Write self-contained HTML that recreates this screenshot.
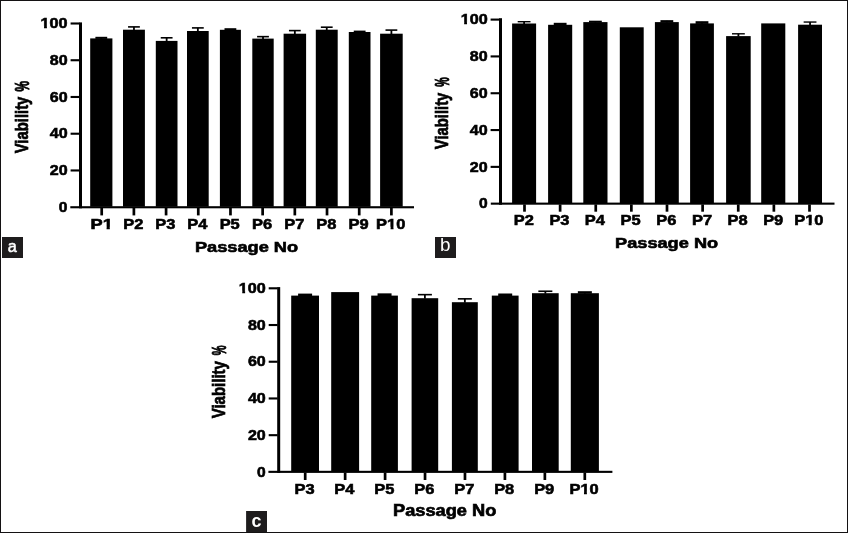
<!DOCTYPE html>
<html><head><meta charset="utf-8"><style>
html,body{margin:0;padding:0;background:#fff;}
body{width:848px;height:533px;overflow:hidden;position:relative;}
svg{position:absolute;left:0;top:0;will-change:transform;font-family:"Liberation Sans",sans-serif;}
.frame{position:absolute;left:0;top:0;width:846px;height:531px;border:1px solid #141213;}
</style></head><body>
<svg width="848" height="533" viewBox="0 0 848 533">
<rect x="0" y="0" width="848" height="533" fill="#fff"/>
<rect x="90.20" y="38.40" width="22.20" height="168.30" fill="#000"/>
<rect x="95.40" y="36.80" width="11.80" height="2.10" fill="#000"/>
<rect x="100.40" y="37.60" width="1.80" height="1.30" fill="#000"/>
<rect x="100.35" y="208.00" width="2.70" height="7.40" fill="#000"/>
<g transform="matrix(0.91237 0.00000 0.00000 0.71831 90.514 229.156)"><text font-size="20" font-weight="bold" fill="#000" stroke="#000" stroke-width="0.800">P1</text><rect x="13.201" y="-3.240" width="4.400" height="5.240" fill="#fff"/><rect x="21.161" y="-3.240" width="3.640" height="5.240" fill="#fff"/></g>
<rect x="123.00" y="29.70" width="21.90" height="177.00" fill="#000"/>
<rect x="128.05" y="26.10" width="11.80" height="1.60" fill="#000"/>
<rect x="133.05" y="26.90" width="1.80" height="3.30" fill="#000"/>
<rect x="132.54" y="208.00" width="2.70" height="7.40" fill="#000"/>
<g transform="matrix(0.82250 0.00000 0.00000 0.71831 123.199 229.156)"><text font-size="20" font-weight="bold" fill="#000" stroke="#000" stroke-width="0.800">P2</text></g>
<rect x="155.80" y="40.90" width="21.70" height="165.80" fill="#000"/>
<rect x="160.75" y="37.00" width="11.80" height="1.60" fill="#000"/>
<rect x="165.75" y="37.80" width="1.80" height="3.60" fill="#000"/>
<rect x="164.73" y="208.00" width="2.70" height="7.40" fill="#000"/>
<g transform="matrix(0.82250 0.00000 0.00000 0.71831 155.347 229.156)"><text font-size="20" font-weight="bold" fill="#000" stroke="#000" stroke-width="0.800">P3</text></g>
<rect x="187.00" y="31.00" width="21.70" height="175.70" fill="#000"/>
<rect x="191.95" y="27.10" width="11.80" height="1.60" fill="#000"/>
<rect x="196.95" y="27.90" width="1.80" height="3.60" fill="#000"/>
<rect x="196.92" y="208.00" width="2.70" height="7.40" fill="#000"/>
<g transform="matrix(0.82250 0.00000 0.00000 0.71831 187.289 229.156)"><text font-size="20" font-weight="bold" fill="#000" stroke="#000" stroke-width="0.800">P4</text></g>
<rect x="219.90" y="29.80" width="21.00" height="176.90" fill="#000"/>
<rect x="224.50" y="28.20" width="11.80" height="2.10" fill="#000"/>
<rect x="229.50" y="29.00" width="1.80" height="1.30" fill="#000"/>
<rect x="229.11" y="208.00" width="2.70" height="7.40" fill="#000"/>
<g transform="matrix(0.82250 0.00000 0.00000 0.71831 219.642 229.156)"><text font-size="20" font-weight="bold" fill="#000" stroke="#000" stroke-width="0.800">P5</text></g>
<rect x="252.30" y="38.60" width="21.40" height="168.10" fill="#000"/>
<rect x="257.10" y="35.85" width="11.80" height="1.60" fill="#000"/>
<rect x="262.10" y="36.65" width="1.80" height="2.45" fill="#000"/>
<rect x="261.29" y="208.00" width="2.70" height="7.40" fill="#000"/>
<g transform="matrix(0.82250 0.00000 0.00000 0.71831 251.913 229.156)"><text font-size="20" font-weight="bold" fill="#000" stroke="#000" stroke-width="0.800">P6</text></g>
<rect x="283.60" y="33.70" width="22.50" height="173.00" fill="#000"/>
<rect x="288.95" y="29.80" width="11.80" height="1.60" fill="#000"/>
<rect x="293.95" y="30.60" width="1.80" height="3.60" fill="#000"/>
<rect x="293.48" y="208.00" width="2.70" height="7.40" fill="#000"/>
<g transform="matrix(0.82250 0.00000 0.00000 0.71831 284.184 229.156)"><text font-size="20" font-weight="bold" fill="#000" stroke="#000" stroke-width="0.800">P7</text></g>
<rect x="315.80" y="29.70" width="21.90" height="177.00" fill="#000"/>
<rect x="320.85" y="26.40" width="11.80" height="1.60" fill="#000"/>
<rect x="325.85" y="27.20" width="1.80" height="3.00" fill="#000"/>
<rect x="325.67" y="208.00" width="2.70" height="7.40" fill="#000"/>
<g transform="matrix(0.82250 0.00000 0.00000 0.71831 316.250 229.156)"><text font-size="20" font-weight="bold" fill="#000" stroke="#000" stroke-width="0.800">P8</text></g>
<rect x="348.80" y="32.00" width="21.70" height="174.70" fill="#000"/>
<rect x="353.75" y="30.60" width="11.80" height="1.90" fill="#000"/>
<rect x="358.75" y="31.40" width="1.80" height="1.10" fill="#000"/>
<rect x="357.86" y="208.00" width="2.70" height="7.40" fill="#000"/>
<g transform="matrix(0.82250 0.00000 0.00000 0.71831 348.480 229.156)"><text font-size="20" font-weight="bold" fill="#000" stroke="#000" stroke-width="0.800">P9</text></g>
<rect x="380.10" y="33.70" width="22.60" height="173.00" fill="#000"/>
<rect x="385.50" y="29.30" width="11.80" height="1.60" fill="#000"/>
<rect x="390.50" y="30.10" width="1.80" height="4.10" fill="#000"/>
<rect x="390.05" y="208.00" width="2.70" height="7.40" fill="#000"/>
<g transform="matrix(0.82250 0.00000 0.00000 0.71831 376.104 229.156)"><text font-size="20" font-weight="bold" fill="#000" stroke="#000" stroke-width="0.800">P10</text><rect x="13.201" y="-3.240" width="4.400" height="5.240" fill="#fff"/><rect x="21.161" y="-3.240" width="3.640" height="5.240" fill="#fff"/></g>
<rect x="79.00" y="22.40" width="3.00" height="185.90" fill="#000"/>
<rect x="70.30" y="206.20" width="343.70" height="2.10" fill="#000"/>
<rect x="70.60" y="22.45" width="8.90" height="2.10" fill="#000"/>
<g transform="matrix(0.80964 0.00000 0.00000 0.71831 40.587 28.156)"><text font-size="20" font-weight="bold" fill="#000" stroke="#000" stroke-width="0.800">100</text><rect x="-0.140" y="-3.240" width="4.400" height="5.240" fill="#fff"/><rect x="7.820" y="-3.240" width="3.640" height="5.240" fill="#fff"/></g>
<rect x="70.60" y="59.19" width="8.90" height="2.10" fill="#000"/>
<g transform="matrix(0.80327 0.00000 0.00000 0.71831 49.710 64.896)"><text font-size="20" font-weight="bold" fill="#000" stroke="#000" stroke-width="0.800">80</text></g>
<rect x="70.60" y="95.93" width="8.90" height="2.10" fill="#000"/>
<g transform="matrix(0.80318 0.00000 0.00000 0.71831 49.712 101.636)"><text font-size="20" font-weight="bold" fill="#000" stroke="#000" stroke-width="0.800">60</text></g>
<rect x="70.60" y="132.67" width="8.90" height="2.10" fill="#000"/>
<g transform="matrix(0.80354 0.00000 0.00000 0.71831 49.704 138.376)"><text font-size="20" font-weight="bold" fill="#000" stroke="#000" stroke-width="0.800">40</text></g>
<rect x="70.60" y="169.41" width="8.90" height="2.10" fill="#000"/>
<g transform="matrix(0.80318 0.00000 0.00000 0.71831 49.712 175.116)"><text font-size="20" font-weight="bold" fill="#000" stroke="#000" stroke-width="0.800">20</text></g>
<g transform="matrix(0.78039 0.00000 0.00000 0.71831 58.862 211.856)"><text font-size="20" font-weight="bold" fill="#000" stroke="#000" stroke-width="0.800">0</text></g>
<g transform="matrix(0.91105 0.00000 0.00000 0.76087 194.916 251.500)"><text font-size="20" font-weight="bold" fill="#000" stroke="#000" stroke-width="0.800">Passage No</text></g>
<g transform="matrix(0.00000 -0.74342 0.91444 0.00000 28.159 153.349)"><text font-size="20" font-weight="bold" fill="#000" stroke="#000" stroke-width="0.800">Viability</text></g>
<g transform="matrix(0.00000 -0.58929 1.00000 0.00000 28.700 91.595)"><text font-size="20" font-weight="bold" fill="#000" stroke="#000" stroke-width="0.900">%</text></g>
<rect x="2.00" y="237.00" width="21.00" height="21.00" fill="#1e1c1d"/>
<g transform="matrix(0.81373 0.00000 0.00000 0.78182 7.668 251.644)"><text font-size="20" font-weight="normal" fill="#fff" stroke="#fff" stroke-width="0.600">a</text></g>
<rect x="512.10" y="23.50" width="24.00" height="179.60" fill="#000"/>
<rect x="517.70" y="21.00" width="12.80" height="1.40" fill="#000"/>
<rect x="523.20" y="21.70" width="1.80" height="2.30" fill="#000"/>
<rect x="523.15" y="204.40" width="2.70" height="7.30" fill="#000"/>
<g transform="matrix(0.82250 0.00000 0.00000 0.71831 513.810 225.456)"><text font-size="20" font-weight="bold" fill="#000" stroke="#000" stroke-width="0.800">P2</text></g>
<rect x="548.10" y="24.80" width="24.10" height="178.30" fill="#000"/>
<rect x="553.75" y="22.80" width="12.80" height="2.50" fill="#000"/>
<rect x="559.25" y="23.50" width="1.80" height="1.80" fill="#000"/>
<rect x="558.77" y="204.40" width="2.70" height="7.30" fill="#000"/>
<g transform="matrix(0.82250 0.00000 0.00000 0.71831 549.394 225.456)"><text font-size="20" font-weight="bold" fill="#000" stroke="#000" stroke-width="0.800">P3</text></g>
<rect x="583.30" y="22.10" width="24.20" height="181.00" fill="#000"/>
<rect x="589.00" y="20.70" width="12.80" height="1.90" fill="#000"/>
<rect x="594.50" y="21.40" width="1.80" height="1.20" fill="#000"/>
<rect x="594.40" y="204.40" width="2.70" height="7.30" fill="#000"/>
<g transform="matrix(0.82250 0.00000 0.00000 0.71831 584.772 225.456)"><text font-size="20" font-weight="bold" fill="#000" stroke="#000" stroke-width="0.800">P4</text></g>
<rect x="619.80" y="27.30" width="23.90" height="175.80" fill="#000"/>
<rect x="630.02" y="204.40" width="2.70" height="7.30" fill="#000"/>
<g transform="matrix(0.82250 0.00000 0.00000 0.71831 620.561 225.456)"><text font-size="20" font-weight="bold" fill="#000" stroke="#000" stroke-width="0.800">P5</text></g>
<rect x="654.90" y="22.10" width="23.90" height="181.00" fill="#000"/>
<rect x="660.45" y="20.15" width="12.80" height="2.45" fill="#000"/>
<rect x="665.95" y="20.85" width="1.80" height="1.75" fill="#000"/>
<rect x="665.65" y="204.40" width="2.70" height="7.30" fill="#000"/>
<g transform="matrix(0.82250 0.00000 0.00000 0.71831 656.269 225.456)"><text font-size="20" font-weight="bold" fill="#000" stroke="#000" stroke-width="0.800">P6</text></g>
<rect x="690.10" y="23.40" width="23.80" height="179.70" fill="#000"/>
<rect x="695.60" y="21.20" width="12.80" height="2.70" fill="#000"/>
<rect x="701.10" y="21.90" width="1.80" height="2.00" fill="#000"/>
<rect x="701.27" y="204.40" width="2.70" height="7.30" fill="#000"/>
<g transform="matrix(0.82250 0.00000 0.00000 0.71831 691.976 225.456)"><text font-size="20" font-weight="bold" fill="#000" stroke="#000" stroke-width="0.800">P7</text></g>
<rect x="726.10" y="36.10" width="24.60" height="167.00" fill="#000"/>
<rect x="732.00" y="33.10" width="12.80" height="1.40" fill="#000"/>
<rect x="737.50" y="33.80" width="1.80" height="2.80" fill="#000"/>
<rect x="736.90" y="204.40" width="2.70" height="7.30" fill="#000"/>
<g transform="matrix(0.82250 0.00000 0.00000 0.71831 727.478 225.456)"><text font-size="20" font-weight="bold" fill="#000" stroke="#000" stroke-width="0.800">P8</text></g>
<rect x="761.20" y="23.40" width="24.10" height="179.70" fill="#000"/>
<rect x="772.52" y="204.40" width="2.70" height="7.30" fill="#000"/>
<g transform="matrix(0.82250 0.00000 0.00000 0.71831 763.144 225.456)"><text font-size="20" font-weight="bold" fill="#000" stroke="#000" stroke-width="0.800">P9</text></g>
<rect x="798.10" y="24.70" width="23.90" height="178.40" fill="#000"/>
<rect x="803.65" y="21.35" width="12.80" height="1.40" fill="#000"/>
<rect x="809.15" y="22.05" width="1.80" height="3.15" fill="#000"/>
<rect x="808.15" y="204.40" width="2.70" height="7.30" fill="#000"/>
<g transform="matrix(0.82250 0.00000 0.00000 0.71831 794.204 225.456)"><text font-size="20" font-weight="bold" fill="#000" stroke="#000" stroke-width="0.800">P10</text><rect x="13.201" y="-3.240" width="4.400" height="5.240" fill="#fff"/><rect x="21.161" y="-3.240" width="3.640" height="5.240" fill="#fff"/></g>
<rect x="499.00" y="18.20" width="3.00" height="186.50" fill="#000"/>
<rect x="490.80" y="202.60" width="343.70" height="2.10" fill="#000"/>
<rect x="490.60" y="18.55" width="8.90" height="2.10" fill="#000"/>
<g transform="matrix(0.80964 0.00000 0.00000 0.71831 460.687 24.256)"><text font-size="20" font-weight="bold" fill="#000" stroke="#000" stroke-width="0.800">100</text><rect x="-0.140" y="-3.240" width="4.400" height="5.240" fill="#fff"/><rect x="7.820" y="-3.240" width="3.640" height="5.240" fill="#fff"/></g>
<rect x="490.60" y="55.37" width="8.90" height="2.10" fill="#000"/>
<g transform="matrix(0.80327 0.00000 0.00000 0.71831 469.810 61.076)"><text font-size="20" font-weight="bold" fill="#000" stroke="#000" stroke-width="0.800">80</text></g>
<rect x="490.60" y="92.19" width="8.90" height="2.10" fill="#000"/>
<g transform="matrix(0.80318 0.00000 0.00000 0.71831 469.812 97.896)"><text font-size="20" font-weight="bold" fill="#000" stroke="#000" stroke-width="0.800">60</text></g>
<rect x="490.60" y="129.01" width="8.90" height="2.10" fill="#000"/>
<g transform="matrix(0.80354 0.00000 0.00000 0.71831 469.804 134.716)"><text font-size="20" font-weight="bold" fill="#000" stroke="#000" stroke-width="0.800">40</text></g>
<rect x="490.60" y="165.83" width="8.90" height="2.10" fill="#000"/>
<g transform="matrix(0.80318 0.00000 0.00000 0.71831 469.812 171.536)"><text font-size="20" font-weight="bold" fill="#000" stroke="#000" stroke-width="0.800">20</text></g>
<g transform="matrix(0.78039 0.00000 0.00000 0.71831 478.962 208.356)"><text font-size="20" font-weight="bold" fill="#000" stroke="#000" stroke-width="0.800">0</text></g>
<g transform="matrix(0.91015 0.00000 0.00000 0.76087 615.017 247.800)"><text font-size="20" font-weight="bold" fill="#000" stroke="#000" stroke-width="0.800">Passage No</text></g>
<g transform="matrix(0.00000 -0.74211 0.91979 0.00000 448.137 149.248)"><text font-size="20" font-weight="bold" fill="#000" stroke="#000" stroke-width="0.800">Viability</text></g>
<g transform="matrix(0.00000 -0.52976 0.99291 0.00000 448.701 86.865)"><text font-size="20" font-weight="bold" fill="#000" stroke="#000" stroke-width="0.900">%</text></g>
<rect x="435.00" y="237.00" width="21.00" height="21.00" fill="#1e1c1d"/>
<g transform="matrix(0.94444 0.00000 0.00000 0.87755 440.072 251.224)"><text font-size="20" font-weight="normal" fill="#fff">b</text></g>
<rect x="291.20" y="295.60" width="27.80" height="175.70" fill="#000"/>
<rect x="298.10" y="293.60" width="14.00" height="2.50" fill="#000"/>
<rect x="304.20" y="294.40" width="1.80" height="1.70" fill="#000"/>
<rect x="303.85" y="472.60" width="2.70" height="7.40" fill="#000"/>
<g transform="matrix(0.82250 0.00000 0.00000 0.70423 294.469 493.759)"><text font-size="20" font-weight="bold" fill="#000" stroke="#000" stroke-width="0.800">P3</text></g>
<rect x="331.20" y="292.10" width="27.90" height="179.20" fill="#000"/>
<rect x="343.79" y="472.60" width="2.70" height="7.40" fill="#000"/>
<g transform="matrix(0.82250 0.00000 0.00000 0.70423 334.165 493.759)"><text font-size="20" font-weight="bold" fill="#000" stroke="#000" stroke-width="0.800">P4</text></g>
<rect x="371.20" y="295.60" width="26.70" height="175.70" fill="#000"/>
<rect x="377.55" y="293.35" width="14.00" height="2.75" fill="#000"/>
<rect x="383.65" y="294.15" width="1.80" height="1.95" fill="#000"/>
<rect x="383.74" y="472.60" width="2.70" height="7.40" fill="#000"/>
<g transform="matrix(0.82250 0.00000 0.00000 0.70423 374.272 493.759)"><text font-size="20" font-weight="bold" fill="#000" stroke="#000" stroke-width="0.800">P5</text></g>
<rect x="411.60" y="298.20" width="26.60" height="173.10" fill="#000"/>
<rect x="417.90" y="293.85" width="14.00" height="1.60" fill="#000"/>
<rect x="424.00" y="294.65" width="1.80" height="4.05" fill="#000"/>
<rect x="423.68" y="472.60" width="2.70" height="7.40" fill="#000"/>
<g transform="matrix(0.82250 0.00000 0.00000 0.70423 414.297 493.759)"><text font-size="20" font-weight="bold" fill="#000" stroke="#000" stroke-width="0.800">P6</text></g>
<rect x="451.90" y="302.20" width="25.90" height="169.10" fill="#000"/>
<rect x="457.85" y="298.05" width="14.00" height="1.60" fill="#000"/>
<rect x="463.95" y="298.85" width="1.80" height="3.85" fill="#000"/>
<rect x="463.62" y="472.60" width="2.70" height="7.40" fill="#000"/>
<g transform="matrix(0.82250 0.00000 0.00000 0.70423 454.322 493.759)"><text font-size="20" font-weight="bold" fill="#000" stroke="#000" stroke-width="0.800">P7</text></g>
<rect x="491.80" y="295.60" width="26.80" height="175.70" fill="#000"/>
<rect x="498.20" y="293.50" width="14.00" height="2.60" fill="#000"/>
<rect x="504.30" y="294.30" width="1.80" height="1.80" fill="#000"/>
<rect x="503.56" y="472.60" width="2.70" height="7.40" fill="#000"/>
<g transform="matrix(0.82250 0.00000 0.00000 0.70423 494.142 493.759)"><text font-size="20" font-weight="bold" fill="#000" stroke="#000" stroke-width="0.800">P8</text></g>
<rect x="532.00" y="293.20" width="26.70" height="178.10" fill="#000"/>
<rect x="538.35" y="290.45" width="14.00" height="1.60" fill="#000"/>
<rect x="544.45" y="291.25" width="1.80" height="2.45" fill="#000"/>
<rect x="543.51" y="472.60" width="2.70" height="7.40" fill="#000"/>
<g transform="matrix(0.82250 0.00000 0.00000 0.70423 534.126 493.759)"><text font-size="20" font-weight="bold" fill="#000" stroke="#000" stroke-width="0.800">P9</text></g>
<rect x="570.80" y="293.20" width="28.10" height="178.10" fill="#000"/>
<rect x="577.85" y="291.20" width="14.00" height="2.50" fill="#000"/>
<rect x="583.95" y="292.00" width="1.80" height="1.70" fill="#000"/>
<rect x="583.45" y="472.60" width="2.70" height="7.40" fill="#000"/>
<g transform="matrix(0.82250 0.00000 0.00000 0.70423 569.504 493.759)"><text font-size="20" font-weight="bold" fill="#000" stroke="#000" stroke-width="0.800">P10</text><rect x="13.201" y="-3.240" width="4.400" height="5.240" fill="#fff"/><rect x="21.161" y="-3.240" width="3.640" height="5.240" fill="#fff"/></g>
<rect x="277.20" y="287.10" width="3.00" height="185.80" fill="#000"/>
<rect x="268.40" y="470.80" width="344.00" height="2.10" fill="#000"/>
<rect x="268.70" y="287.25" width="9.00" height="2.10" fill="#000"/>
<g transform="matrix(0.80964 0.00000 0.00000 0.71831 238.787 292.956)"><text font-size="20" font-weight="bold" fill="#000" stroke="#000" stroke-width="0.800">100</text><rect x="-0.140" y="-3.240" width="4.400" height="5.240" fill="#fff"/><rect x="7.820" y="-3.240" width="3.640" height="5.240" fill="#fff"/></g>
<rect x="268.70" y="323.97" width="9.00" height="2.10" fill="#000"/>
<g transform="matrix(0.80327 0.00000 0.00000 0.71831 247.910 329.676)"><text font-size="20" font-weight="bold" fill="#000" stroke="#000" stroke-width="0.800">80</text></g>
<rect x="268.70" y="360.69" width="9.00" height="2.10" fill="#000"/>
<g transform="matrix(0.80318 0.00000 0.00000 0.71831 247.912 366.396)"><text font-size="20" font-weight="bold" fill="#000" stroke="#000" stroke-width="0.800">60</text></g>
<rect x="268.70" y="397.41" width="9.00" height="2.10" fill="#000"/>
<g transform="matrix(0.80354 0.00000 0.00000 0.71831 247.904 403.116)"><text font-size="20" font-weight="bold" fill="#000" stroke="#000" stroke-width="0.800">40</text></g>
<rect x="268.70" y="434.13" width="9.00" height="2.10" fill="#000"/>
<g transform="matrix(0.80318 0.00000 0.00000 0.71831 247.912 439.836)"><text font-size="20" font-weight="bold" fill="#000" stroke="#000" stroke-width="0.800">20</text></g>
<g transform="matrix(0.78039 0.00000 0.00000 0.71831 257.062 476.556)"><text font-size="20" font-weight="bold" fill="#000" stroke="#000" stroke-width="0.800">0</text></g>
<g transform="matrix(0.91195 0.00000 0.00000 0.78261 393.014 516.200)"><text font-size="20" font-weight="bold" fill="#000" stroke="#000" stroke-width="0.800">Passage No</text></g>
<g transform="matrix(0.00000 -0.75132 0.87166 0.00000 224.939 418.350)"><text font-size="20" font-weight="bold" fill="#000" stroke="#000" stroke-width="0.800">Viability</text></g>
<g transform="matrix(0.00000 -0.55357 0.98582 0.00000 225.703 355.277)"><text font-size="20" font-weight="bold" fill="#000" stroke="#000" stroke-width="0.900">%</text></g>
<rect x="246.10" y="511.00" width="20.90" height="22.00" fill="#1e1c1d"/>
<g transform="matrix(0.89691 0.00000 0.00000 0.91818 251.382 527.016)"><text font-size="20" font-weight="bold" fill="#fff">c</text></g>
</svg>
<div class="frame"></div>
</body></html>
